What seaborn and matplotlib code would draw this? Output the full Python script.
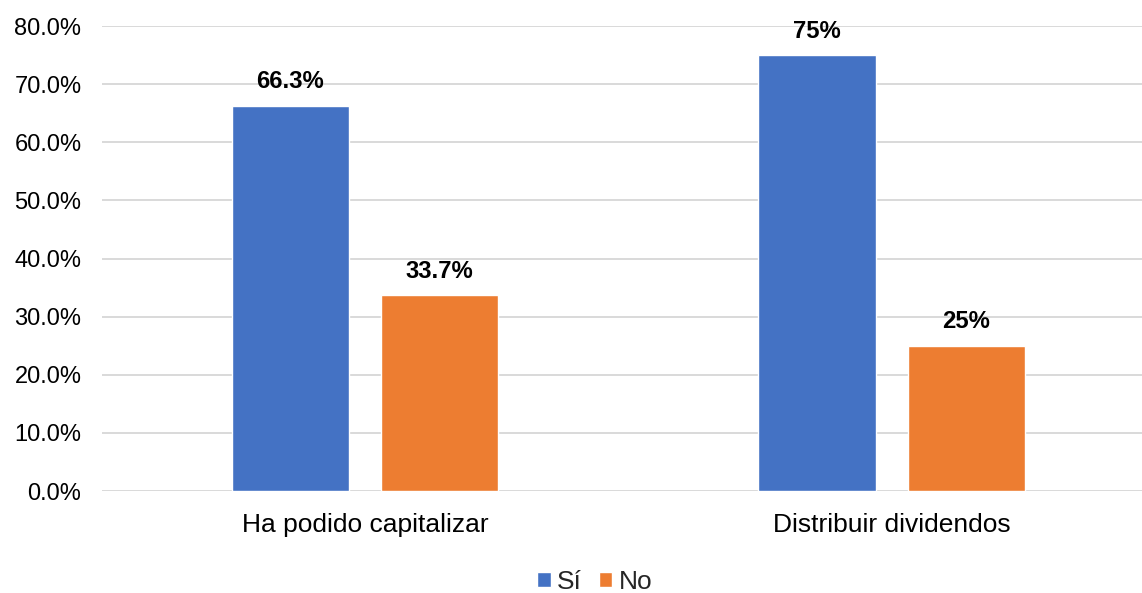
# Gráfico de barras agrupadas: capitalización y distribución de dividendos
import pandas as pd
import matplotlib
matplotlib.use("Agg")
import matplotlib.pyplot as plt
from matplotlib.ticker import FuncFormatter
import seaborn as sns

# Datos
categorias = ["Ha podido capitalizar", "Distribuir dividendos"]
respuestas = ["Sí", "No"]
valores_si = [66.3, 75.0]
valores_no = [33.7, 25.0]
etiquetas_si = ["66.3%", "75%"]
etiquetas_no = ["33.7%", "25%"]

colores = {"Sí": "#4472C4", "No": "#ED7D31"}

df = pd.DataFrame({
    "Categoria": categorias * 2,
    "Respuesta": [respuestas[0]] * 2 + [respuestas[1]] * 2,
    "Valor": valores_si + valores_no,
})

sns.set_style("white")
plt.rcParams["font.family"] = ["Liberation Sans", "DejaVu Sans"]

fig = plt.figure(figsize=(11.42, 5.93), dpi=100)
ax_l, ax_w = 0.0889, 0.9225
ax = fig.add_axes([ax_l, 0.172, ax_w, 0.784])

sns.barplot(
    data=df, x="Categoria", y="Valor", hue="Respuesta",
    order=categorias, hue_order=respuestas, palette=colores,
    width=0.567, gap=0.216, saturation=1, ax=ax, legend=True,
)

# Etiquetas sobre las barras
for cont, labels in zip(ax.containers, [etiquetas_si, etiquetas_no]):
    ax.bar_label(cont, labels=labels, padding=9, fontsize=17.2,
                 fontweight="bold", color="black")

ax.set_ylim(0, 80)
ax.set_xlim(-0.5, 1.5)
ax.set_yticks(range(0, 81, 10))
ax.yaxis.set_major_formatter(FuncFormatter(lambda v, _: f"{v:.1f}%"))
ax.grid(axis="y", color="#D9D9D9", linewidth=1.4)
ax.set_axisbelow(True)
for s in ax.spines.values():
    s.set_visible(False)
ax.tick_params(axis="y", length=0, labelsize=17, colors="black", pad=14.5)
ax.tick_params(axis="x", length=0, labelsize=19, colors="black", pad=16)
ax.set_xlabel("")
ax.set_ylabel("")

leg_x = (0.521 - ax_l) / ax_w
ax.legend(
    loc="center", bbox_to_anchor=(leg_x, -0.195),
    ncol=2, frameon=False, fontsize=19, handlelength=0.5, handleheight=0.5,
    handletextpad=0.25, columnspacing=0.65,
)

fig.savefig("out.png", dpi=100)
